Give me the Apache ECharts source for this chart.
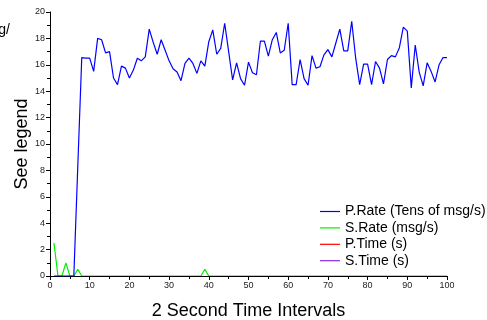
<!DOCTYPE html>
<html>
<head>
<meta charset="utf-8">
<script src="https://cdn.jsdelivr.net/npm/echarts@6/dist/echarts.min.js"></script>
<style>
  html, body { margin: 0; padding: 0; background: #fff; }
  #chart { width: 487px; height: 320px; }
</style>
</head>
<body>
<div id="chart"></div>
<script>
// 2 second intervals, x = 1..100
const intervals = [
  1, 2, 3, 4, 5, 6, 7, 8, 9, 10, 11, 12, 13, 14, 15, 16, 17, 18, 19, 20,
  21, 22, 23, 24, 25, 26, 27, 28, 29, 30, 31, 32, 33, 34, 35, 36, 37, 38, 39, 40,
  41, 42, 43, 44, 45, 46, 47, 48, 49, 50, 51, 52, 53, 54, 55, 56, 57, 58, 59, 60,
  61, 62, 63, 64, 65, 66, 67, 68, 69, 70, 71, 72, 73, 74, 75, 76, 77, 78, 79, 80,
  81, 82, 83, 84, 85, 86, 87, 88, 89, 90, 91, 92, 93, 94, 95, 96, 97, 98, 99, 100,
]

// P.Rate (tens of msg/s)
const pRate = [
  0, 0, 0, 0, 0, 0, 8.3, 16.55, 16.5, 16.5,
  15.5, 18.0, 17.9, 16.9, 17.0, 15.0, 14.5, 15.9, 15.75, 15.0,
  15.6, 16.5, 16.3, 16.6, 18.7, 17.7, 16.8, 17.9, 17.1, 16.3,
  15.7, 15.45, 14.8, 16.1, 16.5, 16.1, 15.35, 16.3, 15.9, 17.75,
  18.65, 16.8, 17.25, 19.15, 17.0, 14.85, 16.15, 14.95, 14.45, 16.2,
  15.4, 15.25, 17.8, 17.8, 16.65, 17.9, 18.45, 16.9, 17.1, 19.15,
  14.5, 14.5, 16.4, 14.95, 14.45, 16.7, 15.75, 15.85, 16.75, 17.15,
  16.6, 17.65, 18.7, 17.05, 17.05, 19.3, 16.5, 14.5, 16.05, 16.05,
  14.5, 16.25, 15.75, 14.55, 16.4, 16.7, 16.6, 17.3, 18.85, 18.55,
  14.25, 17.5, 15.45, 14.4, 16.15, 15.5, 14.7, 16.0, 16.55, 16.55,
]

// S.Rate (msg/s)
const sRate = [
  2.5, 0, 0, 1, 0, 0, 0.5, 0, 0, 0,
  0, 0, 0, 0, 0, 0, 0, 0, 0, 0,
  0, 0, 0, 0, 0, 0, 0, 0, 0, 0,
  0, 0, 0, 0, 0, 0, 0, 0, 0.5, 0,
  0, 0, 0, 0, 0, 0, 0, 0, 0, 0,
  0, 0, 0, 0, 0, 0, 0, 0, 0, 0,
  0, 0, 0, 0, 0, 0, 0, 0, 0, 0,
  0, 0, 0, 0, 0, 0, 0, 0, 0, 0,
  0, 0, 0, 0, 0, 0, 0, 0, 0, 0,
  0, 0, 0, 0, 0, 0, 0, 0, 0, 0,
]

// P.Time / S.Time have nothing visible in the plot
const pTime = []
const sTime = []

const seriesNames = ['P.Rate (Tens of msg/s)', 'S.Rate (msg/s)', 'P.Time (s)', 'S.Time (s)']
const seriesColors = ['#0000ff', '#00f000', '#ff0000', '#8a2be2']

const FONT = 'Liberation Sans, Arial, sans-serif'

const pairs = (ys) => ys.map((y, i) => [intervals[i], y])

const chart = echarts.init(document.getElementById('chart'), null, { renderer: 'canvas' })

const mkSeries = (i, data, z) => ({
  name: seriesNames[i],
  type: 'line',
  data,
  z,
  showSymbol: false,
  symbol: 'none',
  animation: false,
  itemStyle: { color: seriesColors[i] },
  lineStyle: { color: seriesColors[i], width: 1.2 },
})

chart.setOption({
  animation: false,
  grid: { left: 50, right: 40, top: 12, bottom: 44, outerBoundsMode: 'none' },
  graphic: [{
    type: 'text',
    right: 477,
    top: 23,
    style: { text: 'msg/', font: '14px ' + FONT, fill: '#000' },
  }],
  legend: {
    orient: 'vertical',
    left: 320,
    top: 204.5,
    padding: 0,
    icon: 'rect',
    itemWidth: 20,
    itemHeight: 1.2,
    itemGap: 2.4,
    data: seriesNames,
    selectedMode: false,
    textStyle: { fontSize: 14, lineHeight: 14, color: '#000', fontFamily: FONT },
  },
  xAxis: {
    type: 'value',
    min: 0,
    max: 100,
    interval: 10,
    z: 2,
    name: '2 Second Time Intervals',
    nameLocation: 'middle',
    nameGap: 26,
    nameMoveOverlap: false,
    nameTextStyle: { fontSize: 18, color: '#000', fontFamily: FONT },
    axisLine: { show: true, lineStyle: { color: '#000', width: 1 } },
    axisTick: { show: true, inside: false, length: 4, lineStyle: { color: '#000' } },
    minorTick: { show: true, splitNumber: 2, length: 3, lineStyle: { color: '#000' } },
    axisLabel: { fontSize: 9, color: '#222', margin: 5, fontFamily: FONT },
    splitLine: { show: false },
  },
  yAxis: {
    type: 'value',
    min: 0,
    max: 20,
    interval: 2,
    name: 'See legend',
    nameLocation: 'middle',
    nameGap: 19,
    nameMoveOverlap: false,
    nameTextStyle: { fontSize: 18, color: '#000', fontFamily: FONT },
    axisLine: { show: true, lineStyle: { color: '#000', width: 1 } },
    axisTick: { show: true, inside: false, length: 4, lineStyle: { color: '#000' } },
    minorTick: { show: true, splitNumber: 2, length: 3, lineStyle: { color: '#000' } },
    axisLabel: { fontSize: 9, color: '#222', margin: 5, fontFamily: FONT },
    splitLine: { show: false },
  },
  series: [
    mkSeries(0, pairs(pRate), 3),
    mkSeries(1, pairs(sRate), 1),
    mkSeries(2, pTime, 1),
    mkSeries(3, sTime, 1),
  ],
})
</script>
</body>
</html>
